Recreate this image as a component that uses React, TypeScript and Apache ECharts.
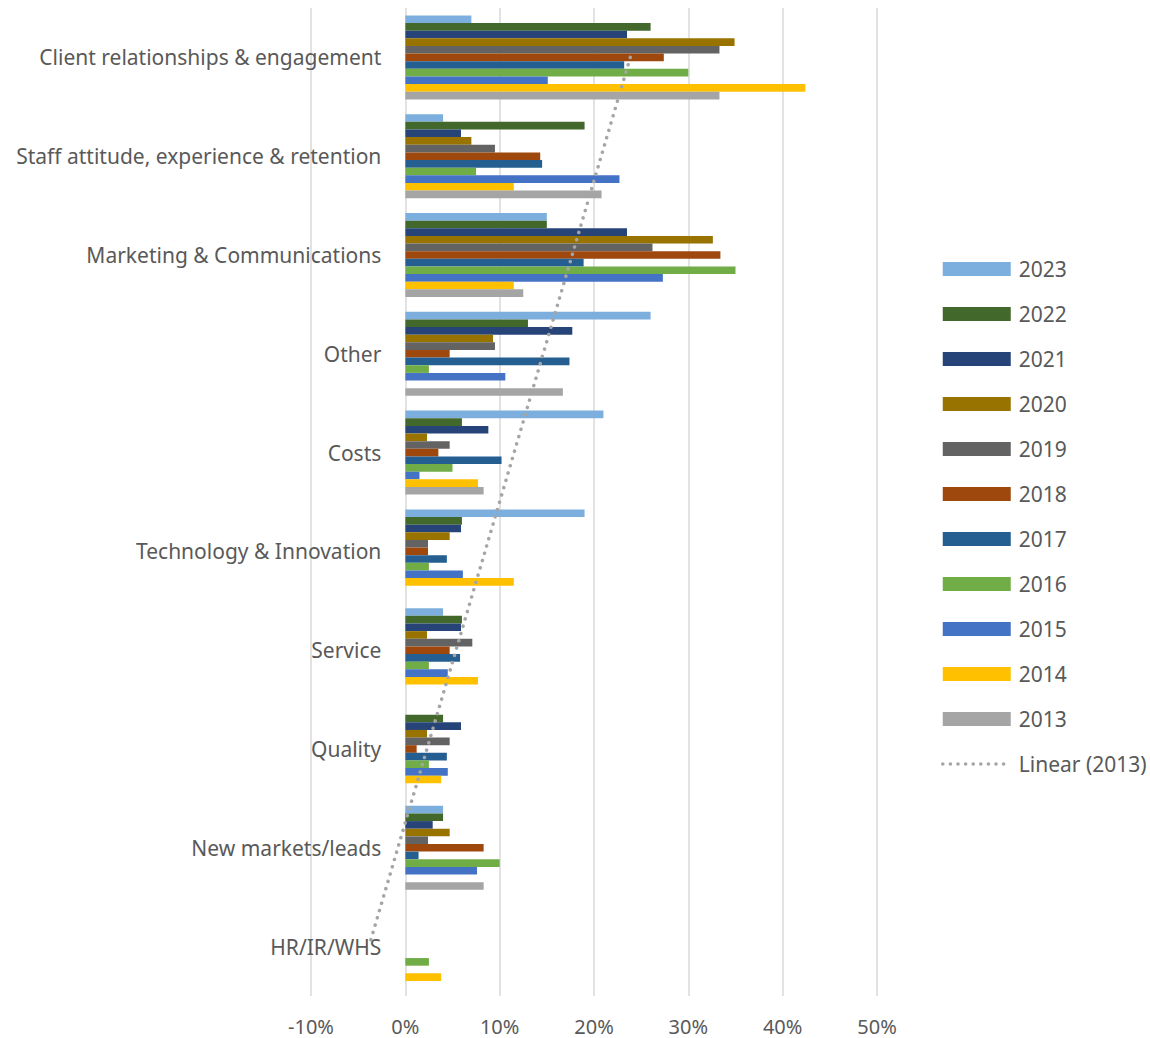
import React, { useEffect, useRef } from "react";
import * as echarts from "echarts";

const categories = [
  "Client relationships & engagement",
  "Staff attitude, experience & retention",
  "Marketing & Communications",
  "Other",
  "Costs",
  "Technology & Innovation",
  "Service",
  "Quality",
  "New markets/leads",
  "HR/IR/WHS",
];

const years = ["2023", "2022", "2021", "2020", "2019", "2018", "2017", "2016", "2015", "2014", "2013"];

const colors = [
  "#7CAFDD", "#43682B", "#264478", "#997300", "#636363", "#9E480E",
  "#255E91", "#70AD47", "#4472C4", "#FFC000", "#A5A5A5",
];

const v2023 = [7.0, 4.0, 15.0, 26.0, 21.0, 19.0, 4.0, 0, 4.0, 0];
const v2022 = [26.0, 19.0, 15.0, 13.0, 6.0, 6.0, 6.0, 4.0, 4.0, 0];
const v2021 = [23.5, 5.9, 23.5, 17.7, 8.8, 5.9, 5.9, 5.9, 2.9, 0];
const v2020 = [34.9, 7.0, 32.6, 9.3, 2.3, 4.7, 2.3, 2.3, 4.7, 0];
const v2019 = [33.3, 9.5, 26.2, 9.5, 4.7, 2.4, 7.1, 4.7, 2.4, 0];
const v2018 = [27.4, 14.3, 33.4, 4.7, 3.5, 2.4, 4.7, 1.2, 8.3, 0];
const v2017 = [23.2, 14.5, 18.9, 17.4, 10.2, 4.4, 5.8, 4.4, 1.4, 0];
const v2016 = [30.0, 7.5, 35.0, 2.5, 5.0, 2.5, 2.5, 2.5, 10.0, 2.5];
const v2015 = [15.1, 22.7, 27.3, 10.6, 1.5, 6.1, 4.5, 4.5, 7.6, 0];
const v2014 = [42.4, 11.5, 11.5, 0, 7.7, 11.5, 7.7, 3.8, 0, 3.8];
const v2013 = [33.3, 20.8, 12.5, 16.7, 8.3, 0, 0, 0, 8.3, 0];

const seriesValues = [v2023, v2022, v2021, v2020, v2019, v2018, v2017, v2016, v2015, v2014, v2013];

const xTicks = { min: -10, max: 50, interval: 10 };

function linearTrend(values: number[]): number[] {
  const n = values.length;
  const xs = values.map((_, i) => i + 1);
  const mx = xs.reduce((a, b) => a + b, 0) / n;
  const my = values.reduce((a, b) => a + (b || 0), 0) / n;
  let sxy = 0;
  let sxx = 0;
  xs.forEach((x, i) => {
    sxy += (x - mx) * ((values[i] || 0) - my);
    sxx += (x - mx) * (x - mx);
  });
  const slope = sxy / sxx;
  return xs.map((x) => my + slope * (x - mx));
}

const GRID_LEFT = 311;
const GRID_RIGHT = 273;
const WIDTH = 1150;

export default function App() {
  const ref = useRef<HTMLDivElement>(null);
  useEffect(() => {
    if (!ref.current) return;
    const chart = echarts.init(ref.current, null, { renderer: "svg" });
    const font = "'Noto Sans', sans-serif";
    const trend = linearTrend(v2013);
    const plotW = WIDTH - GRID_LEFT - GRID_RIGHT;
    const zeroOffset = (plotW * (0 - xTicks.min)) / (xTicks.max - xTicks.min);
    const barSeries = years.map((y, i) => ({
      name: y,
      type: "bar",
      data: seriesValues[i],
      barGap: "0%",
      barCategoryGap: "15%",
      itemStyle: { color: colors[i] },
      z: 2,
    }));
    const dotted = { color: "#A5A5A5", width: 3.5, type: [0.1, 7.5], cap: "round" };
    chart.setOption({
      animation: false,
      backgroundColor: "#ffffff",
      grid: { left: GRID_LEFT, right: GRID_RIGHT, top: 8, bottom: 42, containLabel: false, outerBoundsMode: "none" },
      legend: {
        orient: "vertical",
        left: 941,
        top: 258.5,
        padding: 0,
        itemWidth: 68,
        itemHeight: 14,
        itemGap: 24,
        textStyle: { fontFamily: font, fontSize: 21, color: "#595959", padding: [0, 0, 0, 3] },
        data: [
          ...years.map((y) => ({ name: y, icon: "rect" })),
          { name: "Linear (2013)", itemStyle: { opacity: 0 }, lineStyle: dotted },
        ],
      },
      xAxis: {
        type: "value",
        min: xTicks.min,
        max: xTicks.max,
        interval: xTicks.interval,
        axisLine: { show: false },
        axisTick: { show: false },
        splitLine: { lineStyle: { color: "#d9d9d9", width: 1.5 } },
        axisLabel: {
          formatter: (v: number) => `${v}%`,
          fontFamily: font,
          fontSize: 20,
          color: "#595959",
          margin: 20,
        },
      },
      yAxis: {
        type: "category",
        inverse: true,
        data: categories,
        offset: -zeroOffset,
        axisLine: { show: false, onZero: false },
        axisTick: { show: false },
        splitLine: { show: false },
        axisLabel: {
          fontFamily: font,
          fontSize: 21,
          color: "#595959",
          margin: 24,
        },
      },
      series: [
        ...barSeries,
        {
          name: "Linear (2013)",
          type: "line",
          data: trend.map((v, i) => [v, categories[i]]),
          symbol: "none",
          lineStyle: dotted,
          itemStyle: { color: "#A5A5A5" },
          z: 5,
        },
      ],
    });
    return () => chart.dispose();
  }, []);
  return (
    <div
      ref={ref}
      style={{ position: "absolute", left: 0, top: 0, width: WIDTH, height: 1038 }}
    />
  );
}
